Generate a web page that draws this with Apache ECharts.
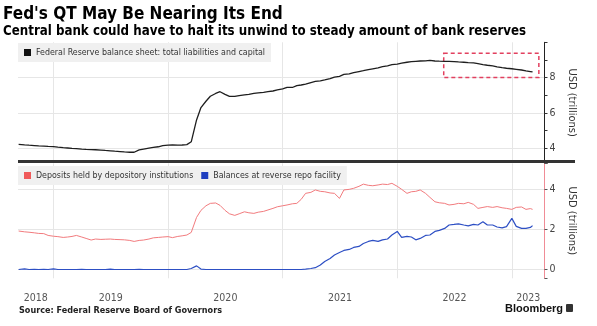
<!DOCTYPE html>
<html>
<head>
<meta charset="utf-8">
<script src="https://cdn.jsdelivr.net/npm/echarts@6/dist/echarts.min.js"></script>
<style>
  html, body { margin: 0; padding: 0; background: #fff; }
  #chart { width: 597px; height: 326px; }
</style>
</head>
<body>
<div id="chart"></div>
<script>
// Observation dates (roughly twice a month)
const dates = [
  '2018-09-12','2018-10-01','2018-10-15','2018-11-01','2018-11-15','2018-12-01','2018-12-15',
  '2019-01-01','2019-01-15','2019-02-01','2019-02-15','2019-03-01','2019-03-15','2019-04-01','2019-04-15',
  '2019-05-01','2019-05-15','2019-06-01','2019-06-15','2019-07-01','2019-07-15','2019-08-01','2019-08-15',
  '2019-09-01','2019-09-15','2019-10-01','2019-10-15','2019-11-01','2019-11-15','2019-12-01','2019-12-15',
  '2020-01-01','2020-01-15','2020-02-01','2020-02-15','2020-03-01','2020-03-15','2020-04-01','2020-04-15',
  '2020-05-01','2020-05-15','2020-06-01','2020-06-15','2020-07-01','2020-07-15','2020-08-01','2020-08-15',
  '2020-09-01','2020-09-15','2020-10-01','2020-10-15','2020-11-01','2020-11-15','2020-12-01','2020-12-15',
  '2021-01-01','2021-01-15','2021-02-01','2021-02-15','2021-03-01','2021-03-15','2021-04-01','2021-04-15',
  '2021-05-01','2021-05-15','2021-06-01','2021-06-15','2021-07-01','2021-07-15','2021-08-01','2021-08-15',
  '2021-09-01','2021-09-15','2021-10-01','2021-10-15','2021-11-01','2021-11-15','2021-12-01','2021-12-15',
  '2022-01-01','2022-01-15','2022-02-01','2022-02-15','2022-03-01','2022-03-15','2022-04-01','2022-04-15',
  '2022-05-01','2022-05-15','2022-06-01','2022-06-15','2022-07-01','2022-07-15','2022-08-01','2022-08-15',
  '2022-09-01','2022-09-15','2022-10-01','2022-10-15','2022-11-01','2022-11-15','2022-12-01','2022-12-15',
  '2023-01-01','2023-01-15','2023-02-01','2023-02-15','2023-03-01','2023-03-08'
];

// Fed balance sheet: total liabilities and capital, USD trillions
const balanceSheet = [
  4.22,4.19,4.17,4.15,4.13,4.12,4.10,
  4.09,4.06,4.03,4.01,3.99,3.98,3.95,3.93,
  3.92,3.91,3.89,3.87,3.85,3.83,3.81,3.79,
  3.77,3.77,3.90,3.95,4.00,4.04,4.08,4.14,
  4.17,4.18,4.17,4.18,4.20,4.36,5.60,6.30,
  6.66,6.94,7.10,7.20,7.05,6.94,6.93,6.98,
  7.02,7.05,7.10,7.13,7.16,7.20,7.24,7.30,
  7.36,7.45,7.44,7.55,7.58,7.63,7.72,7.78,
  7.82,7.87,7.94,8.03,8.07,8.18,8.21,8.28,
  8.34,8.39,8.45,8.50,8.55,8.62,8.67,8.73,
  8.76,8.82,8.87,8.90,8.92,8.94,8.95,8.97,
  8.94,8.93,8.92,8.92,8.91,8.89,8.87,8.85,
  8.83,8.79,8.74,8.70,8.66,8.61,8.56,8.53,
  8.50,8.47,8.43,8.38,8.34,8.32
];

// Deposits held by depository institutions, USD trillions
const reserves = [
  1.92,1.88,1.86,1.83,1.80,1.79,1.70,
  1.66,1.64,1.60,1.62,1.65,1.70,1.62,1.55,
  1.47,1.52,1.50,1.51,1.52,1.50,1.49,1.48,
  1.45,1.40,1.45,1.47,1.52,1.58,1.60,1.62,
  1.64,1.59,1.65,1.68,1.72,1.85,2.60,2.95,
  3.18,3.30,3.32,3.20,2.95,2.78,2.70,2.78,
  2.88,2.83,2.80,2.86,2.90,2.97,3.05,3.13,
  3.18,3.22,3.28,3.30,3.50,3.80,3.85,3.97,
  3.90,3.88,3.82,3.80,3.55,3.97,4.00,4.05,
  4.15,4.26,4.20,4.18,4.22,4.26,4.24,4.30,
  4.15,4.00,3.80,3.88,3.90,3.97,3.80,3.60,
  3.38,3.33,3.30,3.22,3.25,3.30,3.28,3.35,
  3.25,3.05,3.10,3.14,3.10,3.14,3.08,3.05,
  3.00,3.10,3.12,3.00,3.04,3.00
];

// Balances at the reverse repo facility, USD trillions
const reverseRepo = [
  0.00,0.03,0.00,0.01,0.00,0.01,0.00,
  0.03,0.00,0.00,0.00,0.00,0.00,0.01,0.00,
  0.00,0.00,0.00,0.00,0.02,0.00,0.00,0.00,
  0.00,0.00,0.01,0.00,0.00,0.00,0.00,0.00,
  0.00,0.00,0.00,0.00,0.00,0.05,0.18,0.02,
  0.00,0.00,0.00,0.00,0.00,0.00,0.00,0.00,
  0.00,0.00,0.00,0.00,0.00,0.00,0.00,0.00,
  0.00,0.00,0.00,0.00,0.00,0.02,0.05,0.09,
  0.22,0.40,0.55,0.72,0.85,0.95,1.00,1.10,
  1.15,1.30,1.40,1.45,1.40,1.48,1.52,1.72,
  1.90,1.60,1.65,1.62,1.48,1.55,1.70,1.72,
  1.90,1.95,2.05,2.22,2.25,2.28,2.22,2.18,
  2.25,2.22,2.38,2.22,2.22,2.12,2.08,2.14,
  2.55,2.15,2.05,2.05,2.10,2.19
];

const seriesNames = [
  'Federal Reserve balance sheet: total liabilities and capital',
  'Deposits held by depository institutions',
  'Balances at reverse repo facility'
];
const yearLabels = [2018, 2019, 2020, 2021, 2022, 2023];
const xWindow = ['2018-09-10', '2023-04-15'];
const topRange = [3.16, 10];
const bottomRange = [-0.44, 5.3];
// Quantitative-tightening window highlighted on the balance sheet
const qtWindow = ['2022-05-29', '2023-03-28'];
const qtLevels = [8, 9.38];

// Date string -> fractional year
function toYear(s) {
  const d = new Date(s + 'T00:00:00Z');
  const y = d.getUTCFullYear();
  const a = Date.UTC(y, 0, 1), b = Date.UTC(y + 1, 0, 1);
  return y + (d.getTime() - a) / (b - a);
}
const pairs = vals => dates.map((d, i) => [toYear(d), vals[i]]);

const xMin = toYear(xWindow[0]);
const xMax = toYear(xWindow[1]);
// year labels sit in the middle of the visible part of each year
const labelPositions = yearLabels.map(y => (Math.max(y, xMin) + Math.min(y + 1, xMax)) / 2);

const CONDENSED = '"DejaVu Sans Condensed", "DejaVu Sans", sans-serif';
const GRID = '#e6e6e6';
const NONE = 'rgba(0,0,0,0)';
const RED = '#f27b7e';
const BLUE = '#2d4fc4';

const grids = [
  { left: 18, right: 52.5, top: 42.3, height: 120.7 },
  { left: 18, right: 52.5, top: 163.3, height: 115 }
];

function xAxisFor(gridIndex, showLabels) {
  return {
    type: 'value', gridIndex, min: xMin, max: xMax,
    axisLine: { show: false }, axisTick: { show: false },
    splitLine: { show: true, lineStyle: { width: 1, color: [NONE, GRID, GRID, GRID, GRID, GRID, NONE] } },
    axisLabel: showLabels ? {
      customValues: labelPositions,
      formatter: v => String(Math.floor(v + 1e-6)),
      color: '#555', fontSize: 10.5, fontFamily: CONDENSED, margin: 14
    } : { show: false }
  };
}

const legendStyle = {
  selectedMode: false, backgroundColor: '#f0f0f0', padding: [5, 6, 5, 6],
  icon: 'rect', itemWidth: 7, itemHeight: 7, itemGap: 8,
  textStyle: { fontSize: 8.8, color: '#333', fontFamily: CONDENSED }
};

const chart = echarts.init(document.getElementById('chart'), null, { renderer: 'canvas' });
chart.setOption({
  animation: false,
  backgroundColor: '#fff',
  title: [
    { text: "Fed's QT May Be Nearing Its End", left: 3, top: 6.5, padding: 0,
      textStyle: { fontSize: 17, fontWeight: 'bold', color: '#000', fontFamily: CONDENSED } },
    { text: 'Central bank could have to halt its unwind to steady amount of bank reserves', left: 3, top: 25.5, padding: 0,
      textStyle: { fontSize: 13.2, fontWeight: 'bold', color: '#000', fontFamily: CONDENSED } },
    { text: 'Source: Federal Reserve Board of Governors', left: 19, top: 306, padding: 0,
      textStyle: { fontSize: 9, fontWeight: 'bold', color: '#222', fontFamily: CONDENSED } },
    { text: 'Bloomberg', left: 505, top: 303, padding: 0,
      textStyle: { fontSize: 11, fontWeight: 'bold', color: '#111', fontFamily: '"Liberation Sans", Arial, sans-serif' } }
  ],
  legend: [
    Object.assign({ data: [seriesNames[0]], left: 18, top: 43 }, legendStyle),
    Object.assign({ data: [seriesNames[1], seriesNames[2]], left: 18, top: 166 }, legendStyle)
  ],
  grid: grids,
  xAxis: [xAxisFor(0, false), xAxisFor(1, true)],
  yAxis: [
    { type: 'value', gridIndex: 0, position: 'right', min: topRange[0], max: topRange[1],
      name: 'USD (trillions)', nameLocation: 'middle', nameRotate: -90, nameGap: 21,
      nameTextStyle: { fontSize: 11, color: '#333', fontFamily: CONDENSED },
      axisLine: { show: true, lineStyle: { color: '#222', width: 1 } },
      axisTick: { show: true, length: 3, lineStyle: { color: '#333' } },
      axisLabel: { formatter: v => (Number.isInteger(v) && v % 2 === 0 && v < topRange[1]) ? String(v) : '',
        color: '#444', fontSize: 10.5, fontFamily: CONDENSED, margin: 5 },
      splitLine: { show: true, lineStyle: { color: [NONE, GRID, NONE, GRID, NONE, GRID, NONE, NONE] } } },
    { type: 'value', gridIndex: 1, position: 'right', min: bottomRange[0], max: bottomRange[1], splitNumber: 3,
      name: 'USD (trillions)', nameLocation: 'middle', nameRotate: -90, nameGap: 21,
      nameTextStyle: { fontSize: 11, color: '#333', fontFamily: CONDENSED },
      axisLine: { show: true, lineStyle: { color: '#f08c96', width: 1 } },
      axisTick: { show: true, length: 3, lineStyle: { color: '#555' } },
      axisLabel: { formatter: v => (Number.isInteger(v) && v % 2 === 0) ? String(v) : '',
        color: '#444', fontSize: 10.5, fontFamily: CONDENSED, margin: 5 },
      splitLine: { show: true, lineStyle: { color: [NONE, GRID, GRID, GRID, NONE] } } }
  ],
  series: [
    { name: seriesNames[0], type: 'line', xAxisIndex: 0, yAxisIndex: 0, data: pairs(balanceSheet),
      showSymbol: false, color: '#111', lineStyle: { color: '#1e1e1e', width: 1.3 },
      markArea: { silent: true,
        itemStyle: { color: NONE, borderColor: '#e2405f', borderWidth: 1.5, borderType: [4, 3] },
        data: [[{ xAxis: toYear(qtWindow[0]), yAxis: qtLevels[1] }, { xAxis: toYear(qtWindow[1]), yAxis: qtLevels[0] }]] } },
    { name: seriesNames[1], type: 'line', xAxisIndex: 1, yAxisIndex: 1, data: pairs(reserves),
      showSymbol: false, color: '#f05a5a', lineStyle: { color: RED, width: 1 } },
    { name: seriesNames[2], type: 'line', xAxisIndex: 1, yAxisIndex: 1, data: pairs(reverseRepo),
      showSymbol: false, color: '#1f3fc0', lineStyle: { color: BLUE, width: 1.2 } }
  ],
  graphic: [
    // panel separator
    { type: 'line', z: 100, shape: { x1: 18, y1: 161.5, x2: 575, y2: 161.5 }, style: { stroke: '#333', lineWidth: 3 } },
    // publisher mark
    { type: 'rect', z: 100, shape: { x: 566, y: 304, width: 7, height: 8, r: 1 }, style: { fill: '#333' } }
  ]
});
</script>
</body>
</html>
